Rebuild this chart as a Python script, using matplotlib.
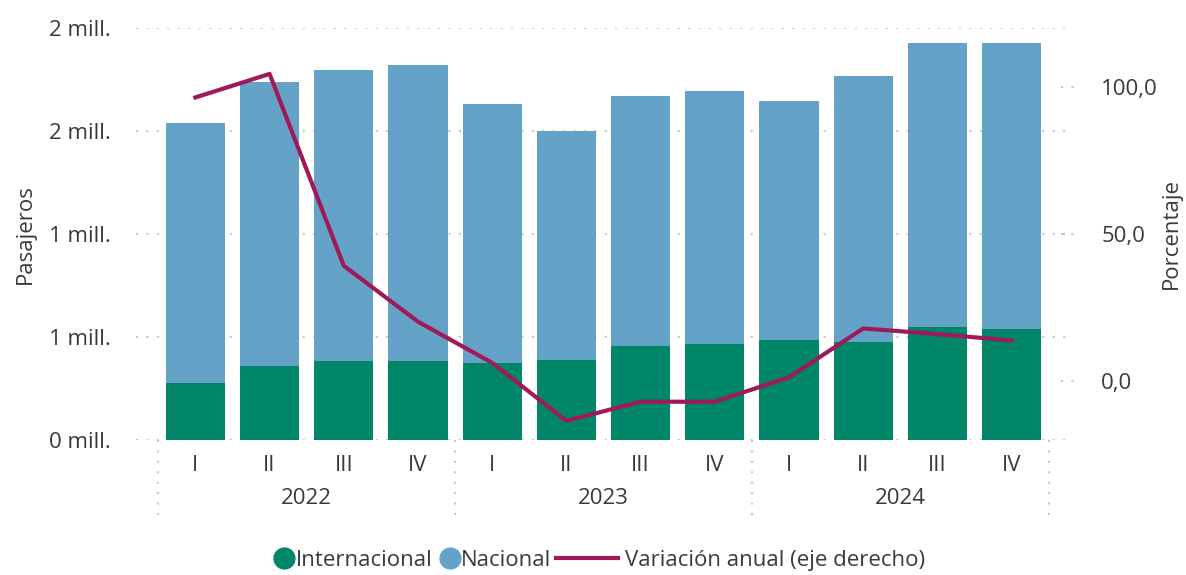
import matplotlib.pyplot as plt
from matplotlib.lines import Line2D
import matplotlib.transforms as mtransforms

plt.rcParams['font.family'] = ['Open Sans', 'DejaVu Sans']

quarters = ["I", "II", "III", "IV"] * 3
years = ["2022", "2023", "2024"]

internacional = [278000, 360000, 385000, 385000, 375000, 390000,
                 458000, 468000, 487000, 477000, 550000, 541000]
nacional = [1261000, 1379000, 1412000, 1437000, 1257000, 1110000,
            1213000, 1227000, 1159000, 1291000, 1379000, 1388000]
variacion = [96.4, 104.4, 39.2, 20.2, 6.2, -13.5, -7.0, -7.0, 1.3, 17.9, 16.0, 13.8]

left_ticks = [0, 500000, 1000000, 1500000, 2000000]
left_labels = ["0 mill.", "1 mill.", "1 mill.", "2 mill.", "2 mill."]
right_ticks = [0, 50, 100]
right_labels = ["0,0", "50,0", "100,0"]

green = "#00876a"
blue = "#64a2c8"
wine = "#a0195a"
txt = "#3a3a3a"
grid = "#c8c8c8"
fs = 16

fig = plt.figure(figsize=(11.86, 5.75), dpi=100)
ax = fig.add_axes([0.1147, 0.2348, 0.7858, 0.7165])
x = range(len(quarters))

ax.bar(x, internacional, width=0.8, color=green, zorder=2)
ax.bar(x, nacional, bottom=internacional, width=0.8, color=blue, zorder=2)

ax.set_xlim(-0.8, 11.76)
ax.set_ylim(0, 2000000)
ax.set_yticks(left_ticks)
ax.set_yticklabels(left_labels)
ax.yaxis.grid(True, color=grid, linestyle=(0, (1, 4)), linewidth=1.5, zorder=0)
ax.set_axisbelow(True)
ax.set_xticks(list(x))
ax.set_xticklabels(quarters)
ax.tick_params(axis='both', length=0, labelsize=fs, labelcolor=txt)
ax.tick_params(axis='x', pad=11)
ax.tick_params(axis='y', pad=18)
for s in ax.spines.values():
    s.set_visible(False)
ax.set_ylabel("Pasajeros", fontsize=fs, color=txt, labelpad=10)

# group separators and year labels
trans = mtransforms.blended_transform_factory(ax.transData, ax.transAxes)
for b in [-0.5, 3.5, 7.5, 11.5]:
    ax.plot([b, b], [0, -0.198], transform=trans, color=grid,
            linestyle=(0, (1, 4)), linewidth=1.5, clip_on=False)
for i, yr in enumerate(years):
    ax.text(4 * i + 1.5, -0.142, yr, transform=trans, ha='center', va='center',
            fontsize=fs, color=txt)

ax2 = ax.twinx()
ax2.plot(list(x), variacion, color=wine, linewidth=3, zorder=3)
ax2.set_ylim(-20, 120)
ax2.set_yticks(right_ticks)
ax2.set_yticklabels(right_labels)
ax2.tick_params(axis='y', length=0, labelsize=fs, labelcolor=txt, pad=24)
for s in ax2.spines.values():
    s.set_visible(False)
ax2.set_ylabel("Porcentaje", fontsize=fs, color=txt, ha='center', va='center')
ax2.yaxis.set_label_coords(1.111, 0.5)
trans2 = mtransforms.blended_transform_factory(ax2.transAxes, ax2.transData)
for t in right_ticks:
    ax2.plot([0.993, 1.006], [t, t], transform=trans2, color=grid,
             linestyle=(0, (1, 4)), linewidth=1.5, clip_on=False)

# legend in two parts: circles, then a longer line sample
circ = [
    Line2D([], [], marker='o', linestyle='none', markersize=15, color=green),
    Line2D([], [], marker='o', linestyle='none', markersize=15, color=blue),
]
leg1 = fig.legend(circ, ["Internacional", "Nacional"], loc='center right',
                  bbox_to_anchor=(0.465, 0.026), ncol=2, frameon=False,
                  fontsize=fs, handletextpad=0.05, columnspacing=0.35,
                  handlelength=0.9, borderpad=0, borderaxespad=0)
leg2 = fig.legend([Line2D([], [], color=wine, linewidth=3)],
                  ["Variación anual (eje derecho)"], loc='center left',
                  bbox_to_anchor=(0.469, 0.026), frameon=False, fontsize=fs,
                  handletextpad=0.3, handlelength=2.8, borderpad=0,
                  borderaxespad=0)
for lg in (leg1, leg2):
    for t in lg.get_texts():
        t.set_color(txt)

fig.savefig("out.png", dpi=100)
